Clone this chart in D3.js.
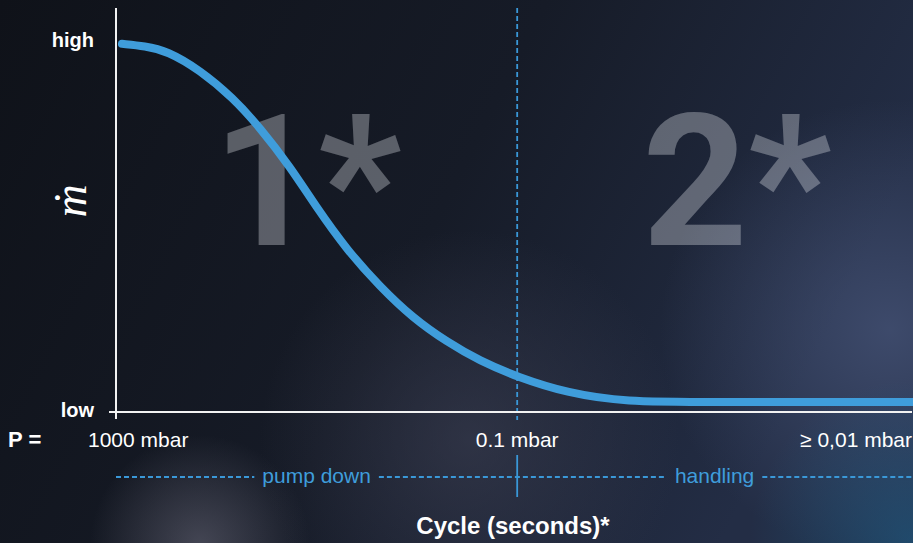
<!DOCTYPE html>
<html><head>
<meta charset="utf-8">
<title>Pump cycle</title>
<style>
body { margin: 0; background: #11141c; }
svg { display: block; font-family: "Liberation Sans", Arial, Helvetica, sans-serif; }
.axis-line { stroke: #f2f2f2; stroke-width: 2; }
.lbl { fill: #ffffff; font-size: 21px; }
.bold { font-weight: bold; }
.phase { fill: #3f9ddb; font-size: 21px; }
.dash { stroke: #3a98d8; stroke-width: 1.8; stroke-dasharray: 5,3; }
</style>
<script src="https://d3js.org/d3.v7.min.js"></script>
</head>
<body>
<svg id="chart" width="913" height="543"></svg>
<script>
// curve (x = cycle 0..100, y = mass flow 0 low .. 100 high)
const cycleX = [0.75, 3.64, 6.41, 10.55, 14.7, 18.1, 21.9, 25.0, 29.0, 33.2, 37.3, 41.6, 45.7, 50.4, 56.7, 64.2, 73.4, 100];
const flowY  = [99.5, 98.9, 97.6, 92.4, 84.9, 76.8, 66.2, 55.9, 43.8, 33.8, 25.4, 18.9, 13.8, 9.5, 5.1, 2.7, 2.7, 2.7];

const yTickValues = [0, 100];
const yTickLabels = ["low", "high"];

const pressureAt = [0, 50.4, 100];
const pressureLabels = ["1000 mbar", "0.1 mbar", "\u2265 0,01 mbar"];

const boundary = 50.4;
const phaseAt = [25.2, 75.2];
const phaseLabels = ["pump down", "handling"];

const regionAt = [24.0, 78.0];
const regionLabels = ["1*", "2*"];

const W = 913, H = 543;
const svg = d3.select("#chart");

const x = d3.scaleLinear().domain([0, 100]).range([116, 912]);
const y = d3.scaleLinear().domain([0, 100]).range([412, 42]);

// background
const defs = svg.append("defs");
const lg = defs.append("linearGradient").attr("id", "bg").attr("x1", 0).attr("y1", 0).attr("x2", 1).attr("y2", 0.3);
lg.append("stop").attr("offset", "0%").attr("stop-color", "#0f1219");
lg.append("stop").attr("offset", "55%").attr("stop-color", "#161b27");
lg.append("stop").attr("offset", "100%").attr("stop-color", "#232d45");
svg.append("rect").attr("width", W).attr("height", H).attr("fill", "url(#bg)");

const glows = [
  {id: "g1", cx: 200, cy: 545, r: 110, c: "#6a6a7a", o: 0.55},
  {id: "g2", cx: 470, cy: 440, r: 210, c: "#3c3f52", o: 0.6},
  {id: "g3", cx: 890, cy: 330, r: 230, c: "#53628a", o: 0.55},
  {id: "g4", cx: 910, cy: 540, r: 160, c: "#1d5f88", o: 0.55}
];
glows.forEach(g => {
  const rg = defs.append("radialGradient").attr("id", g.id);
  rg.append("stop").attr("offset", "0%").attr("stop-color", g.c).attr("stop-opacity", g.o);
  rg.append("stop").attr("offset", "100%").attr("stop-color", g.c).attr("stop-opacity", 0);
  svg.append("circle").attr("cx", g.cx).attr("cy", g.cy).attr("r", g.r).attr("fill", "url(#" + g.id + ")");
});

// big region numbers
svg.selectAll(".region").data(regionLabels).join("text")
  .attr("class", "region")
  .attr("x", (d, i) => x(regionAt[i]))
  .attr("y", 245)
  .attr("text-anchor", "middle")
  .style("font-family", "Roboto, 'Liberation Sans', sans-serif")
  .style("font-size", "184px")
  .style("font-weight", "bold")
  .attr("fill", "#e6e9ee")
  .attr("fill-opacity", 0.34)
  .text(d => d);

// boundary dashed line
svg.append("line").attr("class", "dash")
  .attr("x1", x(boundary)).attr("x2", x(boundary))
  .attr("y1", 8).attr("y2", 420);

// axes
svg.append("line").attr("class", "axis-line")
  .attr("x1", x(0)).attr("x2", x(0)).attr("y1", 8).attr("y2", 419);
svg.append("line").attr("class", "axis-line")
  .attr("x1", x(0) - 7).attr("x2", x(100)).attr("y1", y(0)).attr("y2", y(0));

svg.selectAll(".ytick").data(yTickValues).join("text")
  .attr("class", "lbl bold ytick")
  .attr("x", x(0) - 22)
  .attr("y", d => y(d) + 5)
  .attr("text-anchor", "end")
  .style("font-size", "20px")
  .text((d, i) => yTickLabels[i]);

// y axis title (m dot)
svg.append("text")
  .attr("transform", "translate(86,201) rotate(-90)")
  .attr("text-anchor", "middle")
  .style("font-family", "'Liberation Serif', 'DejaVu Serif', serif")
  .style("font-style", "italic")
  .style("font-size", "46px")
  .attr("fill", "#ffffff")
  .text("\u1E41");

// curve
svg.append("path")
  .datum(cycleX.map((v, i) => [v, flowY[i]]))
  .attr("fill", "none")
  .attr("stroke", "#3f9ddb")
  .attr("stroke-width", 8)
  .attr("stroke-linecap", "round")
  .attr("d", d3.line().x(d => x(d[0])).y(d => y(d[1])).curve(d3.curveBasis));

// pressure row
svg.append("text").attr("class", "lbl bold").attr("x", 8).attr("y", 447).style("font-size", "22px").text("P =");
svg.selectAll(".pres").data(pressureLabels).join("text")
  .attr("class", "lbl pres")
  .attr("x", (d, i) => i === 0 ? x(pressureAt[i]) - 28 : x(pressureAt[i]))
  .attr("y", 447)
  .attr("text-anchor", (d, i) => ["start", "middle", "end"][i])
  .text(d => d);

// phase row
const phaseY = 477;
const phaseText = svg.selectAll(".phase").data(phaseLabels).join("text")
  .attr("class", "phase")
  .attr("x", (d, i) => x(phaseAt[i]))
  .attr("y", phaseY + 6)
  .attr("text-anchor", "middle")
  .text(d => d);

const gaps = [];
phaseText.each(function(d, i) {
  const w = this.getComputedTextLength();
  gaps.push([x(phaseAt[i]) - w / 2 - 8, x(phaseAt[i]) + w / 2 + 8]);
});
const segs = [[x(0), gaps[0][0]], [gaps[0][1], gaps[1][0]], [gaps[1][1], x(100)]];
svg.selectAll(".pseg").data(segs).join("line")
  .attr("class", "dash pseg")
  .attr("x1", d => d[0]).attr("x2", d => d[1])
  .attr("y1", phaseY).attr("y2", phaseY);

svg.append("line")
  .attr("x1", x(boundary)).attr("x2", x(boundary))
  .attr("y1", 455).attr("y2", 497)
  .attr("stroke", "#3a98d8").attr("stroke-width", 1.8);

// x axis title
svg.append("text").attr("class", "lbl bold")
  .attr("x", 513).attr("y", 534)
  .attr("text-anchor", "middle")
  .style("font-size", "24px")
  .text("Cycle (seconds)*");
</script>
</body></html>
